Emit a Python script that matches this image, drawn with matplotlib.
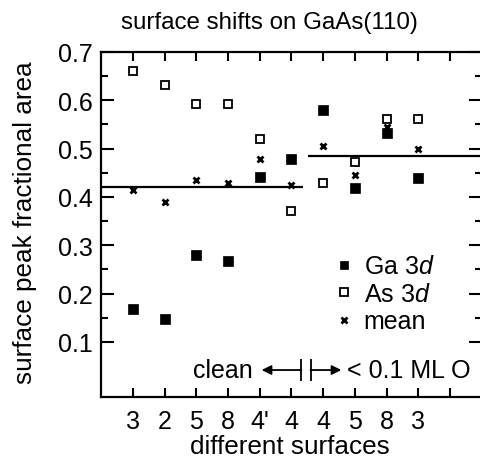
import matplotlib
matplotlib.use("Agg")
import matplotlib.pyplot as plt
from matplotlib.ticker import FixedLocator

plt.rcParams['font.family'] = ['Liberation Sans', 'DejaVu Sans']
plt.rcParams['mathtext.fontset'] = 'custom'
plt.rcParams['mathtext.rm'] = 'Liberation Sans'
plt.rcParams['mathtext.it'] = 'Liberation Sans:italic'

# surfaces in measured order: first six clean, last four after < 0.1 ML O
surfaces = ["3", "2", "5", "8", "4'", "4", "4", "5", "8", "3"]
ga_3d = [0.168, 0.148, 0.280, 0.268, 0.442, 0.479, 0.580, 0.418, 0.532, 0.439]
as_3d = [0.661, 0.632, 0.592, 0.592, 0.520, 0.370, 0.429, 0.472, 0.561, 0.561]
mean = [0.415, 0.389, 0.435, 0.429, 0.479, 0.425, 0.506, 0.445, 0.544, 0.499]
clean_mean = 0.421
oxygen_mean = 0.484

xpos = list(range(1, len(surfaces) + 1))
fs = 18

fig = plt.figure(figsize=(4.81, 4.64), dpi=100)
ax = fig.add_axes([101 / 481, 1 - 398 / 464, 381 / 481, 345 / 464])

ax.plot(xpos, ga_3d, ls='none', marker='s', ms=7.2, mfc='k', mec='k', mew=0.5, label='Ga 3$\\mathit{d}$')
ax.plot(xpos, as_3d, ls='none', marker='s', ms=6.3, mfc='white', mec='k', mew=1.3, label='As 3$\\mathit{d}$')
ax.plot(xpos, mean, ls='none', marker='x', ms=4.5, mec='k', mew=2.0, label='mean')

ax.hlines(clean_mean, 0, 6.35, color='k', lw=1.6)
ax.hlines(oxygen_mean, 6.53, 12, color='k', lw=1.6)

# clean <-| |-> oxidised marker along the bottom
yb = 0.042
ax.annotate('', xy=(5.06, yb), xytext=(6.31, yb),
            arrowprops=dict(arrowstyle='-|>', color='k', lw=1.3, mutation_scale=14, shrinkA=0, shrinkB=0))
ax.annotate('', xy=(7.57, yb), xytext=(6.60, yb),
            arrowprops=dict(arrowstyle='-|>', color='k', lw=1.3, mutation_scale=14, shrinkA=0, shrinkB=0))
ax.vlines([6.31, 6.60], yb - 0.023, yb + 0.023, color='k', lw=1.3)
ax.text(4.78, yb, 'clean', ha='right', va='center', fontsize=fs)
ax.text(7.76, yb, '< 0.1 ML O', ha='left', va='center', fontsize=fs)

ax.set_xlim(0, 12)
ax.set_ylim(-0.0138, 0.7)
ax.xaxis.set_major_locator(FixedLocator(range(1, 12)))
ax.set_xticklabels(surfaces + [''])
ax.yaxis.set_major_locator(FixedLocator([0.1, 0.2, 0.3, 0.4, 0.5, 0.6, 0.7]))
ax.yaxis.set_minor_locator(FixedLocator([0.15, 0.25, 0.35, 0.45, 0.55, 0.65]))
ax.set_yticklabels(['0.1', '0.2', '0.3', '0.4', '0.5', '0.6', '0.7'])

ax.tick_params(axis='both', which='both', direction='in', top=True, right=True, width=1.5, labelsize=fs)
ax.tick_params(axis='x', which='major', length=6.5, pad=8.5)
ax.tick_params(axis='y', which='major', length=9.4, pad=6)
ax.tick_params(axis='y', which='minor', length=5)
for s in ax.spines.values():
    s.set_linewidth(1.6)

ax.legend(loc='upper left', bbox_to_anchor=(0.584, 0.45), frameon=False, fontsize=fs,
          handlelength=0.6, handletextpad=0.5, labelspacing=0.14, borderpad=0, markerscale=0.85)

fig.text(269 / 481, 1 - 23 / 464, 'surface shifts on GaAs(110)', ha='center', va='center', fontsize=17.4)
fig.text(25 / 481, 1 - 223 / 464, 'surface peak fractional area', ha='center', va='center', rotation=90, fontsize=18.8)
fig.text(290 / 481, 1 - 447 / 464, 'different surfaces', ha='center', va='center', fontsize=18.8)

fig.savefig('out.png', dpi=100)
